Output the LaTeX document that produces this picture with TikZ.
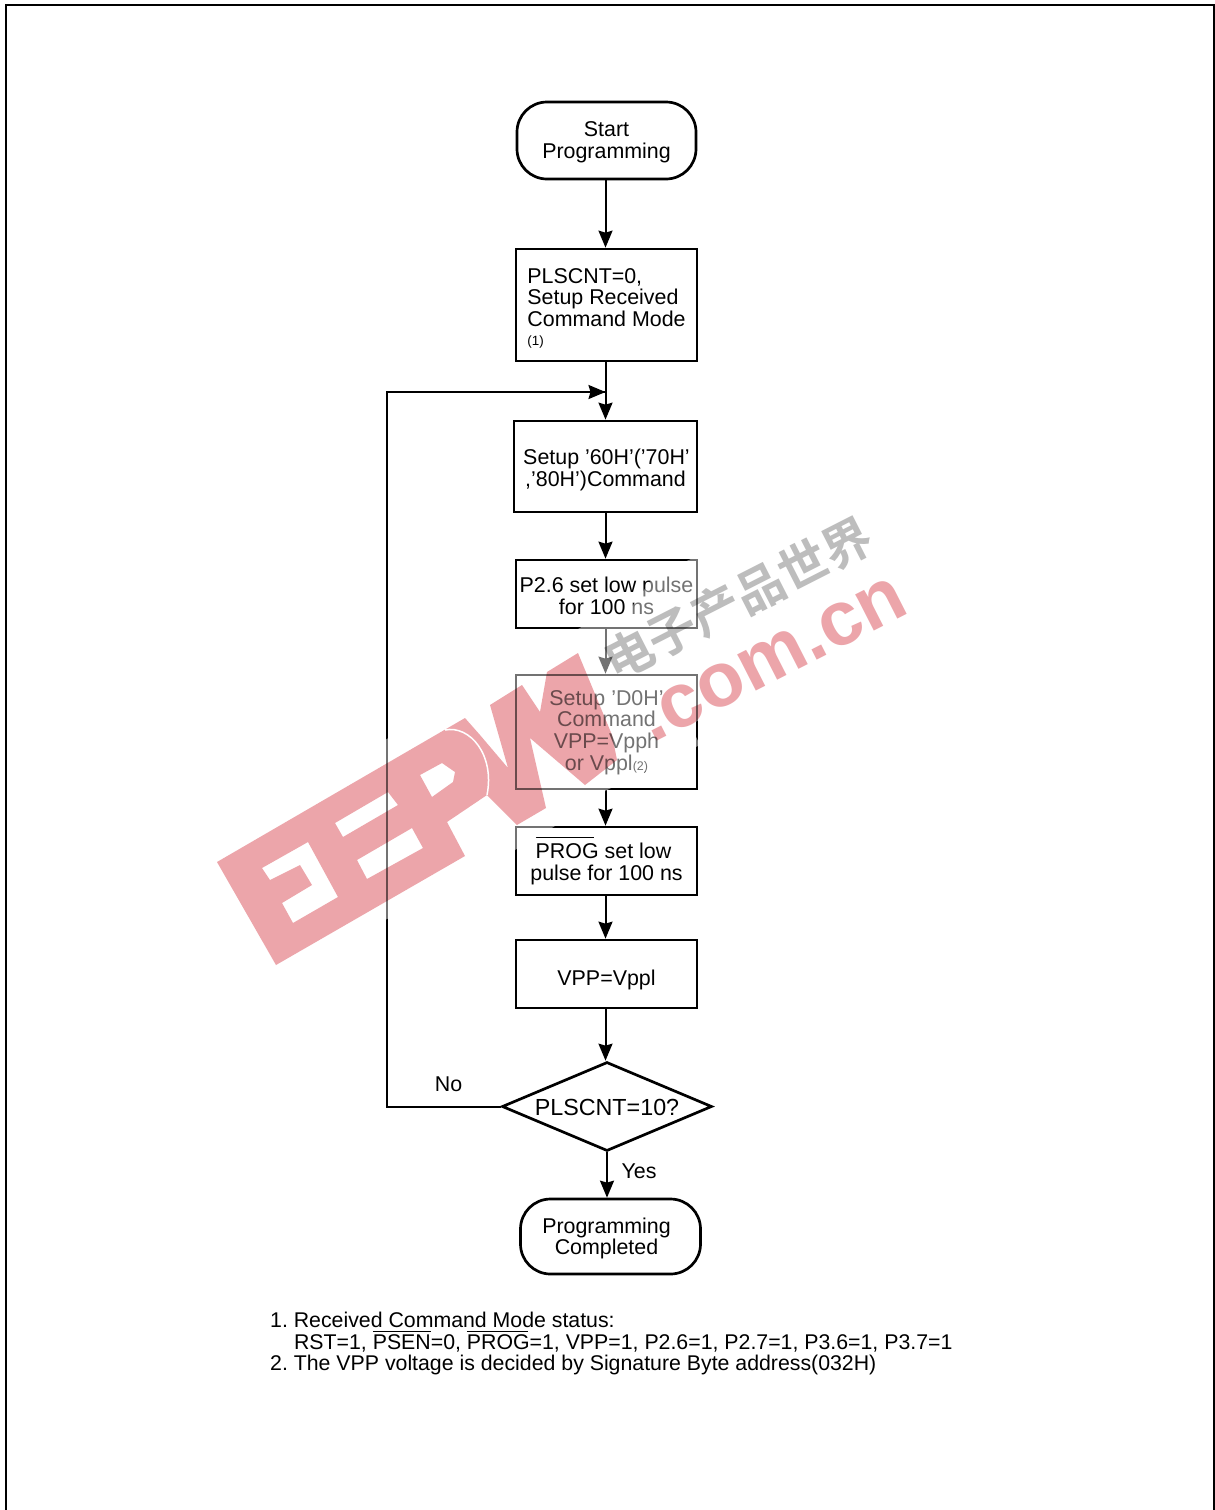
\documentclass[tikz,border=0pt]{standalone}
\usepackage{fontspec}
\setmainfont{Liberation Sans}
\newfontfamily\cjkwm{Noto Sans CJK SC}[BoldFont=* Bold]
\usetikzlibrary{arrows.meta,shapes.geometric,calc}
\newcommand\ovl[3]{\rlap{\rule[#1]{#2}{0.9pt}}#3}
\newcommand\tp[1]{\rule{0pt}{#1pt}}
\newcommand\rp[1]{\rule{#1pt}{0pt}}
\tikzset{
  base/.style={font=\fontsize{21.4}{21.7}\selectfont,text=black,inner sep=0pt,align=center},
  flowbox/.style={base,draw=black,line width=2.7pt,rectangle},
  term/.style={flowbox,rounded corners=30pt},
  conn/.style={line width=2pt,draw=black,-{Stealth[length=17pt,width=14pt,inset=2pt]}},
  loopline/.style={line width=2pt,draw=black},
  plain/.style={base},
}
\definecolor{wmp}{HTML}{ECA5AA}
\definecolor{wmg}{HTML}{BDBDBD}
\begin{document}
\begin{tikzpicture}[x=1pt,y=-1pt]
\useasboundingbox (0,0) rectangle (1215,1510);
\fill[white] (0,0) rectangle (1215,1510);
% page frame
\draw[line width=1.5pt,black] (6,1512) -- (6,5) -- (1214,5) -- (1214,1512);
% flow
\node[term,minimum width=179pt,minimum height=77pt] (start) at (606.5,140.5) {\tp{18.6}Start\\Programming};
\node[flowbox,minimum width=181pt,minimum height=112pt,align=left] (b1) at (606.5,305) {\tp{21}PLSCNT=0,\\Setup Received\\Command Mode\\[-3pt]{\fontsize{13.4}{14}\selectfont (1)}};
\node[flowbox,minimum width=183pt,minimum height=91pt] (b2) at (605.5,466.5) {\tp{22.6}\rp{2}Setup ’60H’(’70H’\\,’80H’)Command};
\node[flowbox,minimum width=181pt,minimum height=68pt] (b3) at (606.5,594) {\tp{18.6}P2.6 set low pulse\\for 100 ns};
\node[flowbox,minimum width=181pt,minimum height=114pt] (b4) at (606.5,732) {\tp{16}Setup ’D0H’\\Command\\VPP=Vpph\\or Vppl{\fontsize{12.5}{14}\selectfont (2)}};
\node[flowbox,minimum width=181pt,minimum height=68pt] (b5) at (606.5,861) {\tp{17.6}\ovl{21pt}{58pt}{PROG} set low\rp{6}\\pulse for 100 ns};
\node[flowbox,minimum width=181pt,minimum height=68pt] (b6) at (606.5,974) {\tp{27.6}VPP=Vppl};
\node[flowbox,shape=diamond,minimum width=210pt,minimum height=89pt,aspect=2.36,font=\fontsize{23.3}{23.3}\selectfont] (dec) at (607,1106.5) {\tp{19}PLSCNT=10?};
\node[term,minimum width=180pt,minimum height=75pt] (fin) at (610.5,1236.5) {\tp{19.6}Programming\rp{8}\\Completed\rp{8}};
\node[plain] (no) at (448.5,1084) {No};
\node[plain] (yes) at (639,1171) {Yes};
\coordinate (join) at (605.5,392);
\coordinate (ll) at (386.5,1106.5);
\coordinate (lt) at (386.5,392);
\draw[conn] (start.south -| join) -- (join |- b1.north);
\draw[conn] (join |- b1.south) -- (join |- b2.north);
\draw[conn] (join |- b2.south) -- (join |- b3.north);
\draw[conn] (join |- b3.south) -- (join |- b4.north);
\draw[conn] (join |- b4.south) -- (join |- b5.north);
\draw[conn] (join |- b5.south) -- (join |- b6.north);
\draw[conn] (join |- b6.south) -- (join |- dec.north);
\draw[conn] (dec.south) -- (dec.south |- fin.north);
\draw[loopline] (dec.west) -- (ll) -- (lt) -- (join);
\draw[conn] (lt) -- (join);
\node[plain,align=left,anchor=north west,font=\fontsize{21.3}{21.5}\selectfont] (notes) at (270,1312) {1.\hspace{5.9pt}Received Command Mode status:\\
\hspace{23.9pt}RST=1, \ovl{17pt}{58pt}{PSEN}=0, \ovl{17pt}{61pt}{PROG}=1, VPP=1, P2.6=1, P2.7=1, P3.6=1, P3.7=1\\
2.\hspace{5.9pt}The VPP voltage is decided by Signature Byte address(032H)};
% watermark haze
\fill[white,opacity=.45] (205,858) -- (385,740) -- (585,625) -- (628,612) -- (655,575) -- (700,555) -- (860,500) -- (935,590) -- (690,725) -- (700,745) -- (607,790) -- (555,826) -- (515,850) -- (470,880) -- (385,920) -- (280,975) -- cycle;
% watermark
\begin{scope}[blend mode=multiply]
\fill[wmp,even odd rule]
  (217,862) -- (465,718) -- (480,735) -- (508,768) -- (490,705) -- (522,685) -- (540,712) -- (547,672) -- (578,653)
  -- (612,735) -- (617,760) -- (585,785) -- (530,738) -- (546,808) -- (517,825) -- (487,795)
  -- (447,822) -- (465,856) -- (276,965) -- cycle
  (262,868) -- (308,842) -- (338,897) -- (293,923) -- (282,903) -- (312,885) -- (300,865) -- (270,880) -- cycle
  (335,823) -- (388,792) -- (398,805) -- (343,837) -- cycle
  (357,860) -- (412,828) -- (423,848) -- (367,879) -- cycle
  (420,775) -- (442,763) -- (455,772) -- (453,782) -- (432,797) -- cycle;
\node[anchor=base west,rotate=27,text=wmp,inner sep=0pt,font=\fontsize{77}{77}\selectfont\bfseries] (wmcom) at (652,744) {.com.cn};
\node[anchor=base west,rotate=27,text=wmg,inner sep=0pt,font=\fontsize{49}{49}\selectfont\cjkwm\bfseries] (wmcn) at (615,682) {电子产品世界};
\end{scope}
\draw[white,line width=1.5pt] (445,730) .. controls (470,725) and (495,755) .. (487,795);
\end{tikzpicture}
\end{document}
